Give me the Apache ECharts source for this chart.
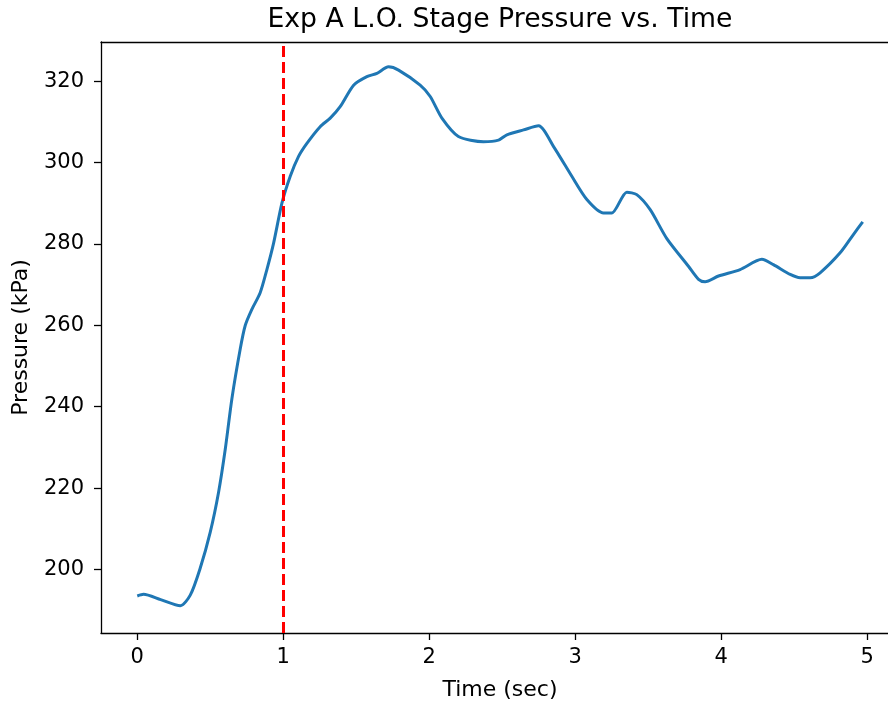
<!DOCTYPE html>
<html style="height: 100%">

<head>
    <meta charset="utf-8">
</head>

<body style="height: 100%; margin: 0; background: #fff; overflow: hidden">
    <!-- a bit wider than the window: the right spine sits just past the edge -->
    <div id="container" style="width: 900px; height: 706px"></div>

    <script type="text/javascript" src="https://cdn.jsdelivr.net/npm/echarts@6/dist/echarts.min.js"></script>

    <script type="text/javascript">

        // time (sec) and pressure (kPa)
        var timeSec = [
            0.0, 0.043, 0.16, 0.295, 0.363, 0.43, 0.5, 0.557, 0.603, 0.648,
            0.705, 0.74, 0.785, 0.842, 0.888, 0.934, 0.991, 1.048, 1.105,
            1.162, 1.253, 1.322, 1.39, 1.482, 1.573, 1.642, 1.721, 1.79, 1.938,
            2.007, 2.087, 2.2, 2.372, 2.475, 2.532, 2.646, 2.749, 2.852, 2.977,
            3.08, 3.194, 3.251, 3.354, 3.422, 3.514, 3.628, 3.776, 3.845, 3.89,
            3.982, 4.13, 4.279, 4.358, 4.473, 4.541, 4.61, 4.678, 4.815, 4.906, 4.97
        ];
        var pressureKPa = [
            193.5, 193.9, 192.6, 191.1, 193.7, 200.2, 209.2, 219.0, 229.6, 241.9,
            254.1, 260.0, 263.9, 268.0, 273.7, 280.2, 290.0, 296.6, 301.5,
            304.7, 308.8, 310.9, 313.7, 319.0, 321.1, 321.9, 323.5, 322.7, 319.0,
            316.2, 310.9, 306.4, 305.1, 305.5, 306.8, 308.0, 309.0, 303.9, 296.6,
            290.9, 287.6, 287.6, 292.7, 292.1, 288.4, 281.3, 274.5, 271.3, 270.7,
            272.1, 273.7, 276.2, 274.9, 272.5, 271.7, 271.7, 272.9, 277.8, 282.3, 285.4
        ];
        var xTicks = [0, 1, 2, 3, 4, 5];
        var yTicks = [200, 220, 240, 260, 280, 300, 320];
        var markTime = 1;

        var points = timeSec.map(function (t, i) { return [t, pressureKPa[i]]; });

        var dom = document.getElementById("container");
        var myChart = echarts.init(dom, null, { renderer: 'canvas' });

        var font = 'DejaVu Sans';
        var spine = { color: '#000', width: 1.3 };

        var option = {
            animation: false,
            backgroundColor: '#fff',
            title: {
                text: 'Exp A L.O. Stage Pressure vs. Time',
                left: 495,
                top: 2,
                textAlign: 'center',
                textStyle: { fontFamily: font, fontSize: 26.7, fontWeight: 'normal', color: '#000' }
            },
            grid: {
                left: 101,
                right: 1,
                top: 42,
                bottom: 71
            },
            xAxis: [
                {
                    type: 'value',
                    min: -0.2485,
                    max: 5.2185,
                    name: 'Time (sec)',
                    nameLocation: 'middle',
                    nameGap: 46,
                    nameTextStyle: { fontFamily: font, fontSize: 22, color: '#000' },
                    axisLine: { show: true, onZero: false, lineStyle: spine },
                    axisTick: { show: true, length: 7, customValues: xTicks, lineStyle: spine },
                    axisLabel: { margin: 14, customValues: xTicks, fontFamily: font, fontSize: 21, color: '#000' },
                    splitLine: { show: false }
                },
                {
                    // top spine only
                    type: 'value',
                    position: 'top',
                    min: -0.2485,
                    max: 5.2185,
                    axisLine: { show: true, onZero: false, lineStyle: spine },
                    axisTick: { show: false },
                    axisLabel: { show: false },
                    splitLine: { show: false }
                }
            ],
            yAxis: {
                type: 'value',
                min: 184.4,
                max: 329.6,
                name: 'Pressure (kPa)',
                nameLocation: 'middle',
                nameGap: 69,
                nameTextStyle: { fontFamily: font, fontSize: 22, color: '#000' },
                axisLine: { show: true, onZero: false, lineStyle: spine },
                axisTick: { show: true, length: 7, customValues: yTicks, lineStyle: spine },
                axisLabel: { margin: 17, customValues: yTicks, fontFamily: font, fontSize: 21, color: '#000' },
                splitLine: { show: false }
            },
            series: [
                {
                    type: 'line',
                    data: points,
                    showSymbol: false,
                    smooth: 0.25,
                    lineStyle: { color: '#1f77b4', width: 3 },
                    markLine: {
                        silent: true,
                        symbol: 'none',
                        label: { show: false },
                        lineStyle: { color: '#ff0000', width: 3, type: [11, 5] },
                        data: [{ xAxis: markTime }]
                    }
                }
            ]
        };

        myChart.setOption(option);

    </script>
</body>

</html>
